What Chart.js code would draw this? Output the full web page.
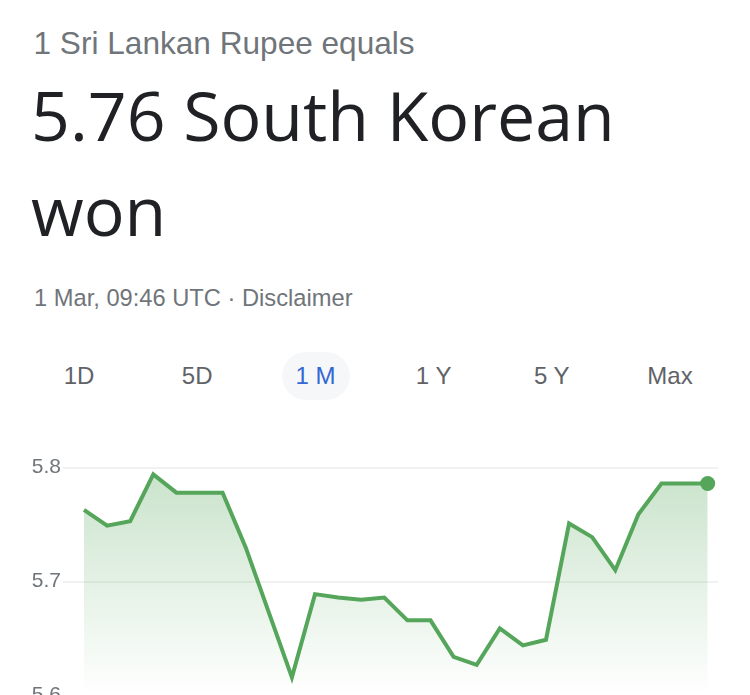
<!DOCTYPE html>
<html>
<head>
<meta charset="utf-8">
<script src="https://cdn.jsdelivr.net/npm/chart.js@4.4.1/dist/chart.umd.min.js"></script>
<style>
  html, body { margin:0; padding:0; background:#fff; width:750px; height:695px; overflow:hidden; }
  .t { position:absolute; white-space:nowrap; }
  #l1 { left:33.5px; top:27.5px; font:31.6px/31.6px "Liberation Sans", Arial, sans-serif; color:#70757a; }
  #big1, #big2 { left:31px; font:68px/68px "Open Sans", sans-serif; color:#202124; }
  #big1 { top:81.3px; }
  #big2 { top:176.3px; }
  #date { left:34px; top:286.6px; font:23.7px/23.7px "Liberation Sans", Arial, sans-serif; color:#70757a; }
  #pill { position:absolute; left:282px; top:352px; width:68px; height:48px; border-radius:24px; background:#f6f7f8; }
  .tab { position:absolute; top:364px; width:118px; margin-left:-59px; text-align:center; font:24px/24px "Liberation Sans", Arial, sans-serif; color:#5f6368; }
  .tab.sel { color:#3367d6; }
  #wrap { position:absolute; left:0; top:428px; width:750px; height:330px; }
</style>
</head>
<body>
<div class="t" id="l1">1 Sri Lankan Rupee equals</div>
<div class="t" id="big1">5.76 South Korean</div>
<div class="t" id="big2">won</div>
<div class="t" id="date">1 Mar, 09:46 UTC · Disclaimer</div>
<div id="pill"></div>
<div id="tabs"></div>
<div id="wrap"><canvas id="c" width="750" height="330"></canvas></div>
<script>
const tabLabels = ["1D", "5D", "1 M", "1 Y", "5 Y", "Max"];
const selectedTab = 2;

const dates = ["3 Feb","4 Feb","5 Feb","6 Feb","7 Feb","8 Feb","9 Feb","10 Feb","11 Feb","12 Feb",
  "13 Feb","14 Feb","15 Feb","16 Feb","17 Feb","18 Feb","19 Feb","20 Feb","21 Feb","22 Feb",
  "23 Feb","24 Feb","25 Feb","26 Feb","27 Feb","28 Feb","29 Feb","1 Mar"];
const rates = [5.763, 5.749, 5.753, 5.794, 5.778, 5.778, 5.778, 5.730, 5.673, 5.616,
  5.689, 5.686, 5.684, 5.686, 5.666, 5.666, 5.634, 5.627, 5.659, 5.644,
  5.649, 5.751, 5.739, 5.710, 5.759, 5.786, 5.786, 5.786];
const yTicks = [5.6, 5.7, 5.8];

// tabs
const tabsEl = document.getElementById('tabs');
tabLabels.forEach((t, i) => {
  const d = document.createElement('div');
  d.className = 'tab' + (i === selectedTab ? ' sel' : '');
  d.style.left = (79 + 118.2 * i) + 'px';
  d.textContent = t;
  tabsEl.appendChild(d);
});

const green = '#55a65b';
const ctx = document.getElementById('c').getContext('2d');
const chart = new Chart(ctx, {
  type: 'line',
  data: {
    labels: dates,
    datasets: [{
      data: rates.map((v, i) => ({ x: i, y: v })),
      borderColor: green,
      borderWidth: 4,
      tension: 0,
      fill: 'start',
      backgroundColor: (c) => {
        const ch = c.chart;
        const a = ch.chartArea;
        if (!a) return 'rgba(85,166,91,0.15)';
        const y0 = ch.scales.y.getPixelForValue(5.8);
        const y1 = ch.scales.y.getPixelForValue(5.6);
        const g = ch.ctx.createLinearGradient(0, y0, 0, y1);
        g.addColorStop(0, 'rgba(85,166,91,0.32)');
        g.addColorStop(1, 'rgba(85,166,91,0.0)');
        return g;
      },
      pointRadius: (c) => c.dataIndex === rates.length - 1 ? 7.5 : 0,
      pointHoverRadius: (c) => c.dataIndex === rates.length - 1 ? 7.5 : 0,
      pointBackgroundColor: green,
      pointBorderWidth: 0
    }]
  },
  options: {
    responsive: false,
    maintainAspectRatio: false,
    animation: false,
    devicePixelRatio: 1,
    layout: { padding: { left: 0, right: 32, top: 0, bottom: 0 } },
    plugins: { legend: { display: false }, tooltip: { enabled: false } },
    scales: {
      x: { type: 'linear', display: false, min: -0.909, max: rates.length - 1 + 0.446 },
      y: {
        min: 5.54, max: 5.824,
        afterBuildTicks: (s) => { s.ticks = yTicks.map(v => ({ value: v })); },
        afterFit: (s) => { s.width = 63; },
        border: { display: false },
        grid: { color: '#f1f1f1', lineWidth: 2, drawTicks: false },
        ticks: {
          padding: 2,
          color: '#70757a',
          font: { family: '"Liberation Sans", Arial, sans-serif', size: 21 },
          callback: (v) => Number(v).toFixed(1)
        }
      }
    }
  }
});

// fit vertical scale: 0.1 unit = 114 px, 5.8 line at page y 467.7
(function fitY() {
  const a = chart.chartArea;
  const H = a.bottom - a.top;
  const pxPerUnit = 1140;
  const topGap = 30;
  chart.options.scales.y.max = 5.8 + topGap / pxPerUnit;
  chart.options.scales.y.min = chart.options.scales.y.max - H / pxPerUnit;
  chart.update('none');
  const y58 = chart.scales.y.getPixelForValue(5.8);
  const wrap = document.getElementById('wrap');
  wrap.style.top = (467.7 - y58) + 'px';
})();
</script>
</body>
</html>
